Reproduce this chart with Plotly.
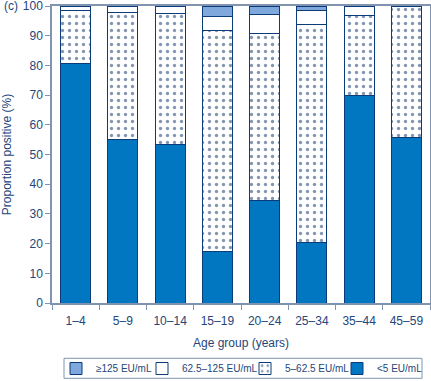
import plotly.graph_objects as go

categories = ["1–4", "5–9", "10–14", "15–19", "20–24", "25–34", "35–44", "45–59"]
lt5 = [80.7, 55.0, 53.5, 17.5, 34.5, 20.5, 69.8, 55.6]
r5_62 = [17.7, 42.9, 44.0, 74.4, 56.4, 73.2, 26.9, 44.4]
r62_125 = [1.6, 2.1, 2.2, 4.5, 6.4, 4.9, 3.3, 0.0]
ge125 = [0.0, 0.0, 0.3, 3.6, 2.7, 1.4, 0.0, 0.0]

NAVY = "#0B3B78"
DOT = "#062C63"
TEXT = "#24467A"
AXIS = "#8094B2"
BLUE = "#0077C0"
LIGHT = "#7FA8DC"

W, H = 431, 381
ML, MR, MT, MB = 52, 1, 6, 78
PW, PH = W - ML - MR, H - MT - MB


def px_x(px):
    return (px - ML) / PW


def px_y(py):
    return (H - MB - py) / PH


fig = go.Figure()
fig.add_trace(go.Bar(x=categories, y=lt5, name="<5 EU/mL", legend="legend4",
                     marker=dict(color=BLUE, line=dict(color=NAVY, width=1))))
fig.add_trace(go.Bar(x=categories, y=r5_62, name="5–62.5 EU/mL", legend="legend3",
                     marker=dict(color="white", line=dict(color=NAVY, width=1),
                                 pattern=dict(shape=".", fgcolor=DOT, bgcolor="white",
                                              size=7, solidity=0.18, fillmode="overlay"))))
fig.add_trace(go.Bar(x=categories, y=r62_125, name="62.5–125 EU/mL", legend="legend2",
                     marker=dict(color="white", line=dict(color=NAVY, width=1))))
fig.add_trace(go.Bar(x=categories, y=ge125, name="≥125 EU/mL", legend="legend",
                     marker=dict(color=LIGHT, line=dict(color=NAVY, width=1))))

swatch_lefts = [68, 154, 257, 349]
leg_common = dict(orientation="h", xanchor="left", yanchor="middle", y=px_y(368.5),
                  borderwidth=0, bgcolor="rgba(0,0,0,0)",
                  font=dict(size=10, color=TEXT), itemwidth=30)
legends = {}
for i, key in enumerate(["legend", "legend2", "legend3", "legend4"]):
    legends[key] = dict(leg_common, x=px_x(swatch_lefts[i] - 12))

fig.update_layout(
    barmode="stack",
    bargap=0.37,
    width=W, height=H,
    margin=dict(l=ML, r=MR, t=MT, b=MB, autoexpand=False),
    plot_bgcolor="white", paper_bgcolor="white",
    font=dict(family="Liberation Sans, Arial, sans-serif", size=12, color=TEXT),
    showlegend=True,
    **legends,
    xaxis=dict(showline=True, linecolor=AXIS, linewidth=1.5, mirror=True,
               ticks="outside", tickson="boundaries", ticklen=5, tickcolor=AXIS,
               ticklabelstandoff=6,
               title=dict(text="Age group (years)", standoff=11, font=dict(size=12)),
               tickfont=dict(size=12)),
    yaxis=dict(range=[0, 100], dtick=10, showline=True, linecolor=AXIS, linewidth=1.5,
               mirror=True, ticks="outside", ticklen=5, tickcolor=AXIS,
               showgrid=False, zeroline=False, ticklabeloverflow="allow",
               title=dict(text="Proportion positive (%)", standoff=10, font=dict(size=12)),
               tickfont=dict(size=12)),
)
fig.add_shape(type="rect", xref="paper", yref="paper",
              x0=px_x(64), x1=px_x(422), y0=px_y(378.3), y1=px_y(358.3),
              line=dict(color=AXIS, width=1), fillcolor="rgba(0,0,0,0)")
fig.add_annotation(text="(c)", xref="paper", yref="paper", x=px_x(11), y=1.0,
                   xanchor="center", yanchor="middle", showarrow=False,
                   font=dict(size=12, color=TEXT))

fig.write_html("out.html", post_script="document.body.style.margin='0';",
               config={"displayModeBar": False})
